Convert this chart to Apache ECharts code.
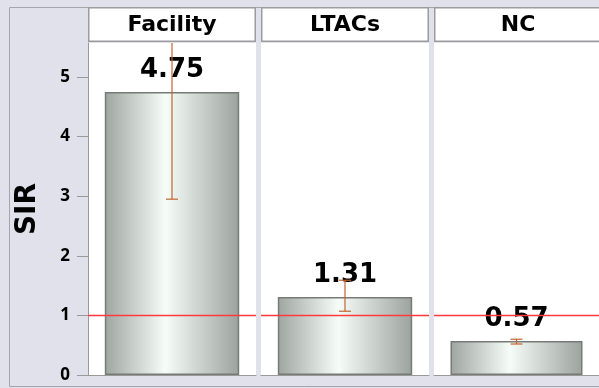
<!DOCTYPE html>
<html><head><meta charset="utf-8">
<script src="https://cdn.jsdelivr.net/npm/echarts@6/dist/echarts.min.js"></script>
<style>html,body{margin:0;padding:0;background:#e1e1eb;}#c{width:599px;height:388px;}</style>
</head><body><div id="c"></div>
<script>
const categories = ['Facility', 'LTACs', 'NC'];
const sirValues = [4.75, 1.31, 0.57];
const lowerCI = [2.95, 1.07, 0.52];
const upperCI = [6.9, 1.59, 0.60];
const yTicks = [0, 1, 2, 3, 4, 5];
const refValue = 1;
const yMax = 5.57;

const chart = echarts.init(document.getElementById('c'), null, {renderer: 'canvas'});
const panelLeft = [88, 261, 434];
const panelW = 168;
const grids = [], xAxes = [], yAxes = [], series = [], graphics = [];

graphics.push({type: 'rect', shape: {x: 9.5, y: 7.5, width: 620, height: 379}, style: {fill: '#e1e1eb', stroke: '#a4a4ae', lineWidth: 1}, z: -10});

categories.forEach((cat, i) => {
  grids.push({left: panelLeft[i], top: 43, width: panelW, bottom: 13, show: true, backgroundColor: '#ffffff', borderWidth: 0});
  xAxes.push({type: 'category', gridIndex: i, data: [cat], axisLabel: {show: false}, axisTick: {show: false},
    axisLine: {show: true, lineStyle: {color: '#9a9a9a', width: 1}}});
  yAxes.push({type: 'value', gridIndex: i, min: 0, max: yMax,
    name: i === 0 ? 'SIR' : '', nameLocation: 'middle', nameGap: 46,
    nameTextStyle: {fontSize: 28, fontWeight: 'bold', color: '#000', fontFamily: 'DejaVu Sans'},
    axisLine: {show: i === 0, lineStyle: {color: '#9a9a9a'}},
    axisTick: {show: i === 0, length: 11, lineStyle: {color: '#9a9a9a'}, customValues: yTicks},
    axisLabel: {show: i === 0, customValues: yTicks, margin: 18, fontSize: 17, fontWeight: 'bold', color: '#000', fontFamily: 'Noto Sans'},
    splitLine: {show: false}});
  series.push({type: 'bar', xAxisIndex: i, yAxisIndex: i, data: [sirValues[i]], barWidth: '80%',
    itemStyle: {color: new echarts.graphic.LinearGradient(0, 0, 1, 0, [
      {offset: 0, color: '#9fa6a2'}, {offset: 0.45, color: '#f6fdf8'}, {offset: 1, color: '#9ca39f'}]),
      borderColor: '#767b78', borderWidth: 1.5},
    label: {show: true, position: 'top', distance: 9, fontSize: 26, fontWeight: 'bold', color: '#000', fontFamily: 'DejaVu Sans',
      formatter: p => p.value.toFixed(2)},
    z: 2});
  series.push({type: 'custom', xAxisIndex: i, yAxisIndex: i, z: 5,
    data: [[0, lowerCI[i], upperCI[i], refValue]],
    renderItem: (params, api) => {
      const cs = params.coordSys;
      const lo = api.coord([api.value(0), api.value(1)]);
      const hi = api.coord([api.value(0), Math.min(api.value(2), yMax)]);
      const ref = api.coord([api.value(0), api.value(3)]);
      const ry = Math.round(ref[1]) + 0.5;
      const hw = 6;
      const st = {stroke: '#c4632f', lineWidth: 1.2};
      const kids = [
        {type: 'line', shape: {x1: cs.x, y1: ry, x2: cs.x + cs.width, y2: ry}, style: {stroke: '#ff3a3a', lineWidth: 1.3}},
        {type: 'line', shape: {x1: lo[0], y1: lo[1], x2: hi[0], y2: hi[1]}, style: st},
        {type: 'line', shape: {x1: lo[0] - hw, y1: lo[1], x2: lo[0] + hw, y2: lo[1]}, style: st}
      ];
      if (api.value(2) <= yMax) kids.push({type: 'line', shape: {x1: hi[0] - hw, y1: hi[1], x2: hi[0] + hw, y2: hi[1]}, style: st});
      return {type: 'group', children: kids};
    }});
  graphics.push({type: 'rect', shape: {x: panelLeft[i] + 0.75, y: 7.75, width: panelW - 1.5, height: 33.5},
    style: {fill: '#ffffff', stroke: '#9c9c9c', lineWidth: 1.5}, z: 5});
  graphics.push({type: 'text', x: panelLeft[i] + panelW / 2, y: 25,
    style: {text: cat, fontSize: 22, fontWeight: 'bold', fill: '#000', fontFamily: 'DejaVu Sans', align: 'center', verticalAlign: 'middle'}, z: 6});
});

chart.setOption({
  backgroundColor: '#e1e1eb',
  animation: false,
  grid: grids, xAxis: xAxes, yAxis: yAxes, series: series,
  graphic: graphics
});
</script></body></html>
